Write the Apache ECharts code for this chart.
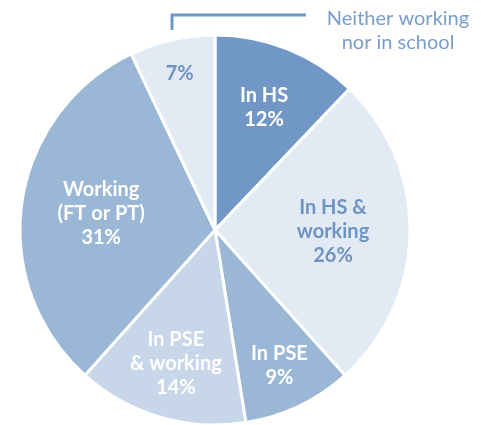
<!DOCTYPE html>
<html lang="en">
<head>
    <meta charset="UTF-8">
    <title>Pie</title>
    <script src="https://cdn.jsdelivr.net/npm/echarts@6/dist/echarts.min.js"></script>
    <style>
        html, body { margin: 0; padding: 0; background: #fff; }
    </style>
</head>
<body>
<div id="main" style="width: 481px;height:425px;"></div>
<script>
    var categories = ['In HS', 'In HS &\nworking', 'In PSE', 'In PSE\n& working', 'Working\n(FT or PT)', ''];
    var values = [12, 26, 9, 14, 31, 7];
    var colors = ['#7097c5', '#e2eaf4', '#9bb7d6', '#c7d6e8', '#9bb7d6', '#e2eaf4'];
    var textColors = ['#fff', '#6f93c3', '#fff', '#fff', '#fff', '#6f93c3'];
    // label distance from the centre, per slice
    var labelRadius = [132, 118, 150, 139, 115, 160];

    var cx = 215, cy = 230, R = 195;
    var total = values.reduce(function (a, b) { return a + b; }, 0);

    function midAngle(i) {
        var before = 0;
        for (var k = 0; k < i; k++) before += values[k];
        return (before + values[i] / 2) / total * Math.PI * 2;
    }

    var myChart = echarts.init(document.getElementById('main'));

    var option = {
        animation: false,
        series: [{
            type: 'pie',
            center: [cx, cy],
            radius: [0, R],
            startAngle: 90,
            clockwise: true,
            itemStyle: { borderColor: '#fff', borderWidth: 3 },
            label: {
                position: 'inside',
                fontFamily: 'Lato',
                fontWeight: 'bold',
                fontSize: 20,
                lineHeight: 24,
                formatter: function (p) {
                    return (p.name ? p.name + '\n' : '') + p.value + '%';
                }
            },
            labelLine: { show: false },
            emphasis: { disabled: true },
            labelLayout: function (params) {
                var i = params.dataIndex;
                var a = midAngle(i);
                return {
                    x: cx + labelRadius[i] * Math.sin(a),
                    y: cy - labelRadius[i] * Math.cos(a),
                    align: 'center',
                    verticalAlign: 'middle'
                };
            },
            data: values.map(function (v, i) {
                return {
                    name: categories[i],
                    value: v,
                    itemStyle: { color: colors[i] },
                    label: { color: textColors[i] }
                };
            })
        }],
        graphic: [
            {
                type: 'polyline',
                shape: { points: [[172, 30], [172, 15], [306, 15]] },
                style: { stroke: '#7097c5', lineWidth: 3, fill: null }
            },
            {
                type: 'text',
                x: 398,
                y: 31,
                style: {
                    text: 'Neither working\nnor in school',
                    fill: '#7a9dca',
                    font: '20px Lato',
                    lineHeight: 24,
                    align: 'center',
                    verticalAlign: 'middle'
                }
            }
        ]
    };

    myChart.setOption(option);
</script>
</body>
</html>
